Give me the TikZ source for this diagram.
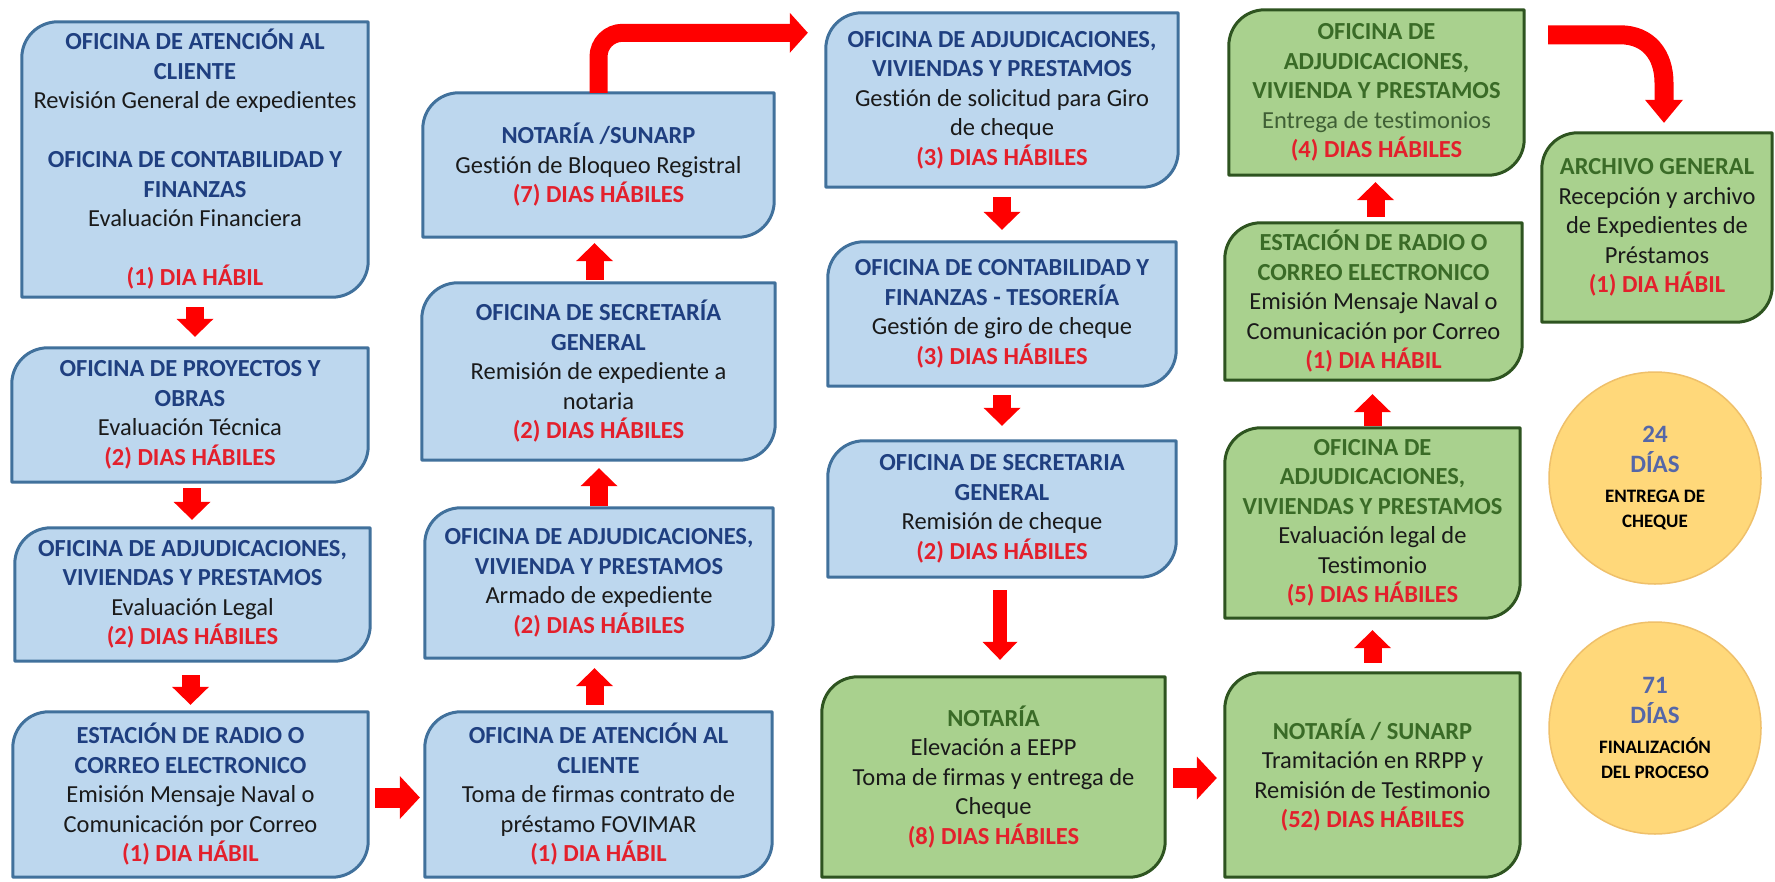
\documentclass[tikz,border=0pt]{standalone}
\usepackage{fontspec}
\setmainfont{Carlito}[Ligatures=NoCommon]
\usetikzlibrary{calc,arrows.meta,backgrounds}
\definecolor{bfill}{HTML}{BDD7EE}
\definecolor{bdraw}{HTML}{41719C}
\definecolor{gfill}{HTML}{A9D18E}
\definecolor{gdraw}{HTML}{2E5420}
\definecolor{hblue}{HTML}{1F3F80}
\definecolor{hgreen}{HTML}{3A6B27}
\definecolor{dred}{HTML}{E3202C}
\definecolor{txt}{HTML}{1A1A1A}
\definecolor{tgreen}{HTML}{3F5F35}
\definecolor{arrred}{HTML}{FF0000}
\definecolor{cfill}{HTML}{FFD87A}
\definecolor{cdraw}{HTML}{EFC06A}
\definecolor{cnum}{HTML}{5567A8}
\newcommand{\HdrB}[1]{\textbf{\textcolor{hblue}{#1}}}
\newcommand{\HdrG}[1]{\textbf{\textcolor{hgreen}{#1}}}
\newcommand{\DaysT}[1]{\textbf{\textcolor{dred}{#1}}}
\newcommand{\dframe}[3]{%
  \filldraw[fill=#2, draw=#3, line width=3pt, line join=round]
    (#1.north east) -- ($(#1.north west)+(36pt,0pt)$)
    .. controls ($(#1.north west)+(16pt,0pt)$) and ($(#1.north west)+(0pt,-16pt)$) .. ($(#1.north west)+(0pt,-36pt)$)
    -- (#1.south west) -- ($(#1.south east)+(-36pt,0pt)$)
    .. controls ($(#1.south east)+(-16pt,0pt)$) and ($(#1.south east)+(0pt,16pt)$) .. ($(#1.south east)+(0pt,36pt)$)
    -- cycle;}
\tikzset{
  bx/.style={rectangle, inner sep=0pt, align=center, text=txt,
    font=\fontsize{24.5pt}{29.5pt}\selectfont},
  vblk/.style={draw=arrred, line width=18pt, -{Triangle[length=18pt,width=37pt,line width=0pt]}},
  hblk/.style={draw=arrred, line width=20pt, -{Triangle[length=20pt,width=43pt,line width=0pt]}},
  lblk/.style={draw=arrred, line width=14pt, -{Triangle[length=18pt,width=35pt,line width=0pt]}},
  circ/.style={circle, fill=cfill, draw=cdraw, line width=1.5pt, minimum size=212pt,
    inner sep=0pt, align=center, font=\bfseries\fontsize{25pt}{30pt}\selectfont},
}
\begin{document}
\begin{tikzpicture}[x=1pt,y=-1pt]
\useasboundingbox (0,0) rectangle (1775,881);

% column A
\node[bx, minimum width=346pt, minimum height=275pt] (A1) at (195,159.5)
 {\HdrB{OFICINA DE ATENCIÓN AL}\\\HdrB{CLIENTE}\\Revisión General de expedientes\\[29.5pt]%
  \HdrB{OFICINA DE CONTABILIDAD Y}\\\HdrB{FINANZAS}\\Evaluación Financiera\\[29.5pt]\DaysT{(1) DIA HÁBIL}};
\node[bx, minimum width=356pt, minimum height=134pt] (A2) at (190,415)
 {\HdrB{OFICINA DE PROYECTOS Y}\\\HdrB{OBRAS}\\Evaluación Técnica\\\DaysT{(2) DIAS HÁBILES}};
\node[bx, minimum width=355pt, minimum height=133pt] (A3) at (192.5,594.5)
 {\HdrB{OFICINA DE ADJUDICACIONES,}\\\HdrB{VIVIENDAS Y PRESTAMOS}\\Evaluación Legal\\\DaysT{(2) DIAS HÁBILES}};
\node[bx, minimum width=355pt, minimum height=165pt] (A4) at (190.5,794.5)
 {\HdrB{ESTACIÓN DE RADIO O}\\\HdrB{CORREO ELECTRONICO}\\Emisión Mensaje Naval o\\Comunicación por Correo\\\DaysT{(1) DIA HÁBIL}};

% column B
\node[bx, minimum width=351pt, minimum height=144pt] (B1) at (598.5,165)
 {\HdrB{NOTARÍA /SUNARP}\\Gestión de Bloqueo Registral\\\DaysT{(7) DIAS HÁBILES}};
\node[bx, minimum width=353pt, minimum height=177pt] (B2) at (598.5,371.5)
 {\HdrB{OFICINA DE SECRETARÍA}\\\HdrB{GENERAL}\\Remisión de expediente a\\notaria\\\DaysT{(2) DIAS HÁBILES}};
\node[bx, minimum width=348pt, minimum height=150pt] (B3) at (599,583)
 {\HdrB{OFICINA DE ADJUDICACIONES,}\\\HdrB{VIVIENDA Y PRESTAMOS}\\Armado de expediente\\\DaysT{(2) DIAS HÁBILES}};
\node[bx, minimum width=347pt, minimum height=165pt] (B4) at (598.5,794.5)
 {\HdrB{OFICINA DE ATENCIÓN AL}\\\HdrB{CLIENTE}\\Toma de firmas contrato de\\préstamo FOVIMAR\\\DaysT{(1) DIA HÁBIL}};

% column C
\node[bx, minimum width=352pt, minimum height=174pt] (C1) at (1002,100)
 {\HdrB{OFICINA DE ADJUDICACIONES,}\\\HdrB{VIVIENDAS Y PRESTAMOS}\\Gestión de solicitud para Giro\\de cheque\\\DaysT{(3) DIAS HÁBILES}};
\node[bx, minimum width=348pt, minimum height=144pt] (C2) at (1002,314)
 {\HdrB{OFICINA DE CONTABILIDAD Y}\\\HdrB{FINANZAS - TESORERÍA}\\Gestión de giro de cheque\\\DaysT{(3) DIAS HÁBILES}};
\node[bx, minimum width=348pt, minimum height=136pt] (C3) at (1002,509)
 {\HdrB{OFICINA DE SECRETARIA}\\\HdrB{GENERAL}\\Remisión de cheque\\\DaysT{(2) DIAS HÁBILES}};
\node[bx, minimum width=343pt, minimum height=200pt] (C4) at (993.5,777)
 {\HdrG{NOTARÍA}\\Elevación a EEPP\\Toma de firmas y entrega de\\Cheque\\\DaysT{(8) DIAS HÁBILES}};

% column D
\node[bx, minimum width=295pt, minimum height=165pt] (D1) at (1376.5,92.5)
 {\HdrG{OFICINA DE}\\\HdrG{ADJUDICACIONES,}\\\HdrG{VIVIENDA Y PRESTAMOS}\\\textcolor{tgreen}{Entrega de testimonios}\\\DaysT{(4) DIAS HÁBILES}};
\node[bx, minimum width=297pt, minimum height=157pt] (D2) at (1373.5,301.5)
 {\HdrG{ESTACIÓN DE RADIO O}\\\HdrG{CORREO ELECTRONICO}\\Emisión Mensaje Naval o\\Comunicación por Correo\\\DaysT{(1) DIA HÁBIL}};
\node[bx, minimum width=295pt, minimum height=190pt] (D3) at (1372.5,523)
 {\HdrG{OFICINA DE}\\\HdrG{ADJUDICACIONES,}\\\HdrG{VIVIENDAS Y PRESTAMOS}\\Evaluación legal de\\Testimonio\\\DaysT{(5) DIAS HÁBILES}};
\node[bx, minimum width=295pt, minimum height=204pt] (D4) at (1372.5,775)
 {\HdrG{NOTARÍA / SUNARP}\\Tramitación en RRPP y\\Remisión de Testimonio\\\DaysT{(52) DIAS HÁBILES}};

% column E
\node[bx, minimum width=230pt, minimum height=189pt] (E1) at (1657,227.5)
 {\HdrG{ARCHIVO GENERAL}\\Recepción y archivo\\de Expedientes de\\Préstamos\\\DaysT{(1) DIA HÁBIL}};

\node[circ] (K1) at (1655,478)
 {\textcolor{cnum}{24}\\\textcolor{cnum}{DÍAS}\\{\fontsize{19pt}{24pt}\selectfont ENTREGA DE}\\[-5pt]{\fontsize{19pt}{24pt}\selectfont CHEQUE}};
\node[circ] (K2) at (1655,728)
 {\textcolor{cnum}{71}\\\textcolor{cnum}{DÍAS}\\{\fontsize{19pt}{24pt}\selectfont FINALIZACIÓN}\\[-5pt]{\fontsize{19pt}{24pt}\selectfont DEL PROCESO}};

\begin{scope}[on background layer]
  \fill[white] (0,0) rectangle (1775,881);
  \dframe{A1}{bfill}{bdraw}
  \dframe{A2}{bfill}{bdraw}
  \dframe{A3}{bfill}{bdraw}
  \dframe{A4}{bfill}{bdraw}
  \dframe{B1}{bfill}{bdraw}
  \dframe{B2}{bfill}{bdraw}
  \dframe{B3}{bfill}{bdraw}
  \dframe{B4}{bfill}{bdraw}
  \dframe{C1}{bfill}{bdraw}
  \dframe{C2}{bfill}{bdraw}
  \dframe{C3}{bfill}{bdraw}
  \dframe{C4}{gfill}{gdraw}
  \dframe{D1}{gfill}{gdraw}
  \dframe{D2}{gfill}{gdraw}
  \dframe{D3}{gfill}{gdraw}
  \dframe{D4}{gfill}{gdraw}
  \dframe{E1}{gfill}{gdraw}
\end{scope}

% arrows
\draw[vblk] ($(A1.south)+(0pt,-10pt)$) -- ($(A1.south |- A2.north)+(0pt,11pt)$);
\draw[vblk] ($(A2.south)+(2pt,-6pt)$) -- ($(A2.south |- A3.north)+(2pt,8pt)$);
\draw[vblk] ($(A3.south)+(-2pt,-14pt)$) -- ($(A3.south |- A4.north)+(-2pt,7pt)$);
\draw[hblk] ($(A4.east)+(7pt,-3pt)$) -- ($(A4.east -| B4.west)+(-5pt,-3pt)$);
\draw[vblk] ($(B4.north)+(-4pt,7pt)$) -- ($(B4.north |- B3.south)+(-4pt,-10pt)$);
\draw[vblk] ($(B3.north)+(0pt,2pt)$) -- ($(B3.north |- B2.south)+(0pt,-8pt)$);
\draw[vblk] ($(B2.north)+(-4pt,3pt)$) -- ($(B2.north |- B1.south)+(-4pt,-6pt)$);
\draw[arrred, line width=18pt, rounded corners=24pt,
      -{Triangle[length=18pt,width=40pt,line width=0pt]}]
  (B1.north) |- ($(C1.north west)+(-18pt,-20pt)$);
\draw[vblk] ($(C1.south)+(0pt,-10pt)$) -- ($(C1.south |- C2.north)+(0pt,12pt)$);
\draw[vblk] ($(C2.south)+(0pt,-9pt)$) -- ($(C2.south |- C3.north)+(0pt,15pt)$);
\draw[lblk] ($(C3.south)+(-2pt,-13pt)$) -- ($(C3.south |- C4.north)+(-2pt,17pt)$);
\draw[hblk] ($(C4.east)+(8pt,-1pt)$) -- ($(C4.east -| D4.west)+(-8pt,-1pt)$);
\draw[vblk] ($(D4.north)+(0pt,10pt)$) -- ($(D4.north |- D3.south)+(0pt,-12pt)$);
\draw[vblk] ($(D3.north)+(0pt,2pt)$) -- ($(D3.north |- D2.south)+(0pt,-14pt)$);
\draw[vblk] ($(D2.north)+(2pt,6pt)$) -- ($(D2.north |- D1.south)+(2pt,-7pt)$);
\draw[arrred, line width=19pt, -{Triangle[length=23pt,width=38pt,line width=0pt]}]
  ($(D1.north east)+(24pt,-25pt)$) -- ++(72pt,0pt)
  .. controls +(28pt,0pt) and +(0pt,28pt) .. ($(E1.north)+(7pt,50pt)$)
  -- ($(E1.north)+(7pt,10pt)$);
\end{tikzpicture}
\end{document}
